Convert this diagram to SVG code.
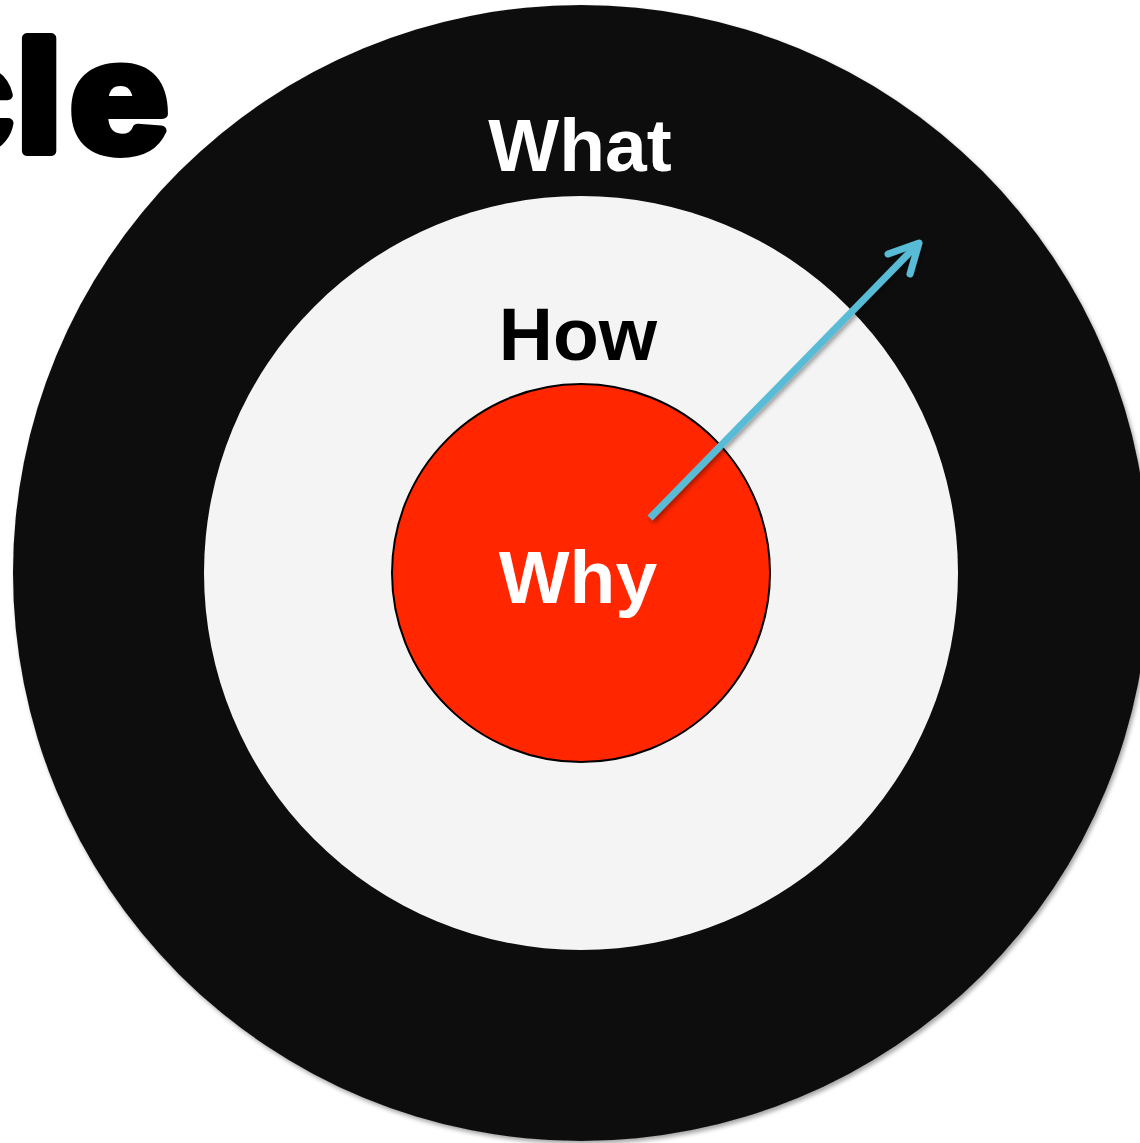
<svg xmlns="http://www.w3.org/2000/svg" width="1140" height="1143" viewBox="0 0 1140 1143">
<style>
.lbl{font-family:"Liberation Sans",Arial,sans-serif;font-weight:bold;text-anchor:middle;font-size:75px}
.big{font-family:"Liberation Sans",Arial,sans-serif;font-weight:bold;font-size:155px;fill:#000;stroke:#000;stroke-width:10;stroke-linejoin:round}
</style>
<defs>
<filter id="sh" x="-20%" y="-20%" width="140%" height="140%">
<feDropShadow dx="2" dy="3" stdDeviation="2" flood-color="#000" flood-opacity="0.35"/>
</filter>
</defs>
<rect width="1140" height="1143" fill="#ffffff"/>
<g id="title">
<text class="big" transform="translate(13,151) scale(1.12,1)" x="0" y="0" text-anchor="end">c</text>
<text class="big" transform="translate(22,151) scale(1.1,1)" x="-6" y="0">l</text>
<text class="big" transform="translate(70,151) scale(1.14,1)" x="0" y="0">e</text>
</g>
<g id="what">
<circle cx="581" cy="573" r="568" fill="#0d0d0d" filter="url(#sh)"/>
<text class="lbl" x="580" y="171" fill="#ffffff">What</text>
</g>
<g id="how">
<circle cx="581" cy="573" r="377" fill="#f4f4f4"/>
<text class="lbl" x="578" y="360" fill="#000000">How</text>
</g>
<g id="why">
<circle cx="581" cy="573" r="189" fill="#ff2600" stroke="#000" stroke-width="2"/>
<text class="lbl" x="578" y="603" fill="#ffffff">Why</text>
</g>
<g id="connectors" filter="url(#sh)">
<line x1="650" y1="518" x2="914" y2="248" stroke="#58bcd6" stroke-width="7"/>
<polyline points="888,254 919,243 910,274" fill="none" stroke="#58bcd6" stroke-width="7" stroke-linecap="round" stroke-linejoin="round"/>
</g>
</svg>
